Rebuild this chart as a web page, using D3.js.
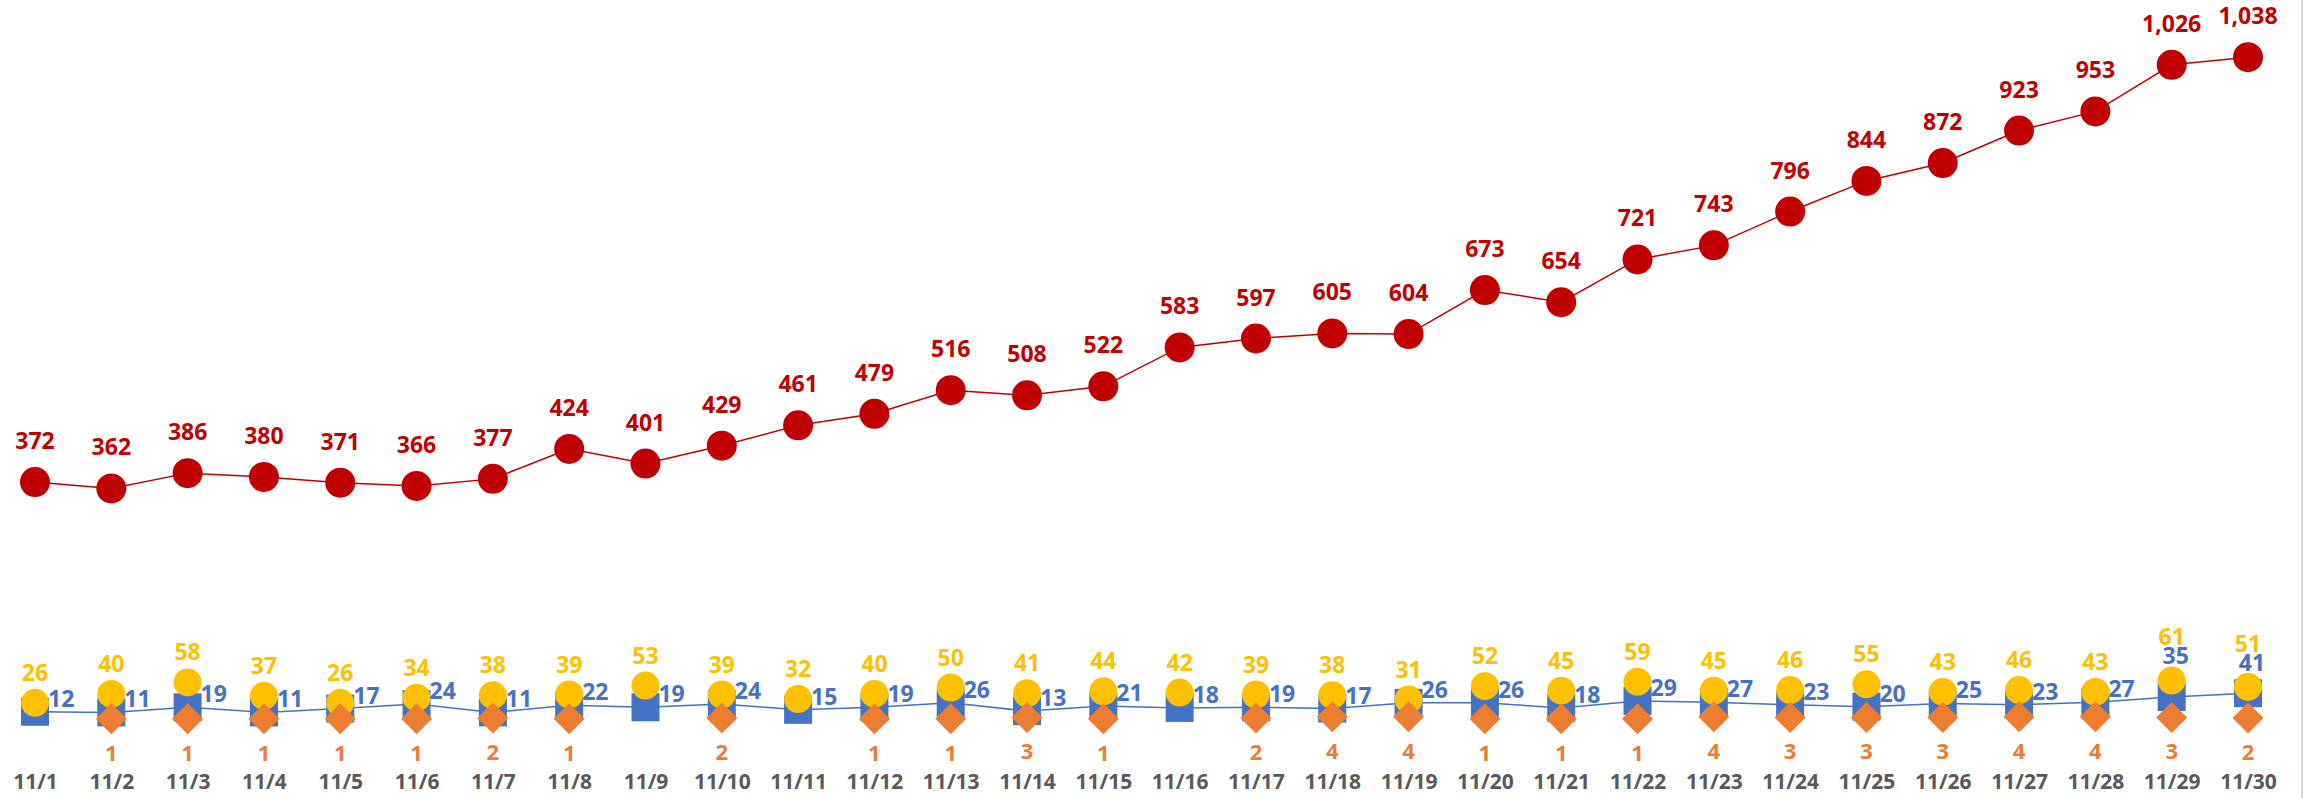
<!DOCTYPE html>
<html>
<head>
<meta charset="utf-8">
<script src="https://cdn.jsdelivr.net/npm/d3@7/dist/d3.min.js"></script>
<style>
  html, body { margin: 0; padding: 0; background: #ffffff; }
  svg { display: block; }
  text { font-family: "Open Sans", Lato, sans-serif; font-weight: 700; }
</style>
</head>
<body>
<svg id="chart" width="2306" height="798"></svg>
<script>
const dates = ["11/1","11/2","11/3","11/4","11/5","11/6","11/7","11/8","11/9","11/10",
  "11/11","11/12","11/13","11/14","11/15","11/16","11/17","11/18","11/19","11/20",
  "11/21","11/22","11/23","11/24","11/25","11/26","11/27","11/28","11/29","11/30"];
const redValues = [372,362,386,380,371,366,377,424,401,429,461,479,516,508,522,583,597,605,604,673,654,721,743,796,844,872,923,953,1026,1038];
const blueValues = [12,11,19,11,17,24,11,22,19,24,15,19,26,13,21,18,19,17,26,26,18,29,27,23,20,25,23,27,35,41];
const yellowValues = [26,40,58,37,26,34,38,39,53,39,32,40,50,41,44,42,39,38,31,52,45,59,45,46,55,43,46,43,61,51];
const orangeValues = [null,1,1,1,1,1,2,1,null,2,null,1,1,3,1,null,2,4,4,1,1,1,4,3,3,3,4,4,3,2];
const blueLabelsAbove = ["11/29","11/30"];

const W = 2306, H = 798;
const svg = d3.select("#chart");

const x = d3.scalePoint().domain(dates).range([35, 2248]);
const y = d3.scaleLinear().domain([0, 1100]).range([719.4, 17.6]);

const RED = "#C00000", BLUE = "#4472C4", YELLOW = "#FFC000", ORANGE = "#ED7D31", GREY = "#595959";
const fmt = d3.format(",");
const FS = 23;

// chart area right border
svg.append("line").attr("x1", 2302).attr("x2", 2302).attr("y1", 0).attr("y2", H)
  .attr("stroke", "#D9D9D9").attr("stroke-width", 2);

// x axis labels
const xAxis = d3.axisBottom(x).tickSize(0).tickPadding(0);
const gx = svg.append("g").attr("transform", "translate(0,789)").call(xAxis);
gx.select(".domain").remove();
gx.selectAll("text").attr("fill", GREY).attr("font-size", 21)
  .attr("dy", 0).attr("y", 0)
  .style("font-family", "'Open Sans', Lato, sans-serif").style("font-weight", 700);

const line = d3.line().defined(d => d.v != null).x(d => x(d.d)).y(d => y(d.v));
const toPts = arr => arr.map((v, i) => ({ d: dates[i], v }));

// Red series
const redPts = toPts(redValues);
svg.append("path").datum(redPts).attr("d", line).attr("fill", "none")
  .attr("stroke", RED).attr("stroke-width", 1.5);
svg.append("g").selectAll("circle").data(redPts).join("circle")
  .attr("cx", d => x(d.d)).attr("cy", d => y(d.v)).attr("r", 15).attr("fill", RED);
svg.append("g").selectAll("text").data(redPts).join("text")
  .attr("x", d => x(d.d)).attr("y", d => y(d.v) - 33)
  .attr("text-anchor", "middle").attr("font-size", FS).attr("fill", RED)
  .text(d => fmt(d.v));

// Blue series (squares + line)
const bluePts = toPts(blueValues);
svg.append("path").datum(bluePts).attr("d", line).attr("fill", "none")
  .attr("stroke", BLUE).attr("stroke-width", 1.5);
svg.append("g").selectAll("rect").data(bluePts).join("rect")
  .attr("x", d => x(d.d) - 14).attr("y", d => y(d.v) - 14)
  .attr("width", 28).attr("height", 28).attr("fill", BLUE);

// Yellow series (circles)
const yellowPts = toPts(yellowValues);
svg.append("g").selectAll("circle").data(yellowPts).join("circle")
  .attr("cx", d => x(d.d)).attr("cy", d => y(d.v)).attr("r", 14).attr("fill", YELLOW);

// Orange series (diamonds)
const orangePts = toPts(orangeValues).filter(d => d.v != null);
const diamondPath = (h) => `M0,${-h}L${h},0L0,${h}L${-h},0Z`;
svg.append("g").selectAll("path").data(orangePts).join("path")
  .attr("transform", d => `translate(${x(d.d)},${y(d.v)})`)
  .attr("d", diamondPath(15.5)).attr("fill", ORANGE);

// Labels
const yellowLabelY = d => y(d.v) - 22 - (blueLabelsAbove.includes(d.d) ? 13 : 0);
svg.append("g").selectAll("text").data(yellowPts).join("text")
  .attr("x", d => x(d.d))
  .attr("y", yellowLabelY)
  .attr("text-anchor", "middle").attr("font-size", FS).attr("fill", YELLOW)
  .text(d => d.v);

const yellowByDate = new Map(yellowPts.map(d => [d.d, d]));
svg.append("g").selectAll("text").data(bluePts).join("text")
  .attr("x", d => blueLabelsAbove.includes(d.d) ? x(d.d) + 4 : x(d.d) + 13)
  .attr("y", d => blueLabelsAbove.includes(d.d) ? yellowLabelY(yellowByDate.get(d.d)) + 19 : y(d.v) - 5)
  .attr("text-anchor", d => blueLabelsAbove.includes(d.d) ? "middle" : "start")
  .attr("font-size", FS).attr("fill", BLUE)
  .text(d => d.v);

svg.append("g").selectAll("text").data(orangePts).join("text")
  .attr("x", d => x(d.d)).attr("y", d => y(d.v) + 42)
  .attr("text-anchor", "middle").attr("font-size", 22).attr("fill", ORANGE)
  .text(d => d.v);
</script>
</body>
</html>
